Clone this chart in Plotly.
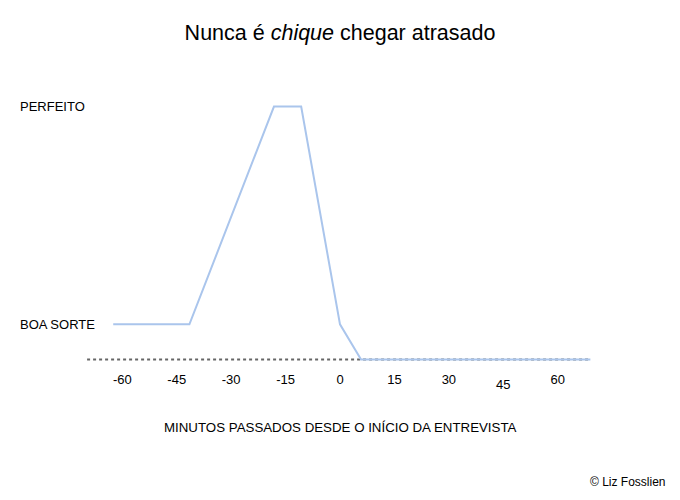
import plotly.graph_objects as go

# Data
minutes = [-62.5, -41.5, -18.2, -10.7, 0, 5.8, 69]
quality = [1, 1, 7.2, 7.2, 1, 0, 0]
baseline_x = [-69.7, 69]
baseline_y = [0, 0]
x_tick_vals = [-60, -45, -30, -15, 0, 15, 30, 45, 60]
x_tick_text = ["-60", "-45", "-30", "-15", "0", "15", "30", "", "60"]
shifted_tick_val = 45
shifted_tick_text = "45"
y_label_vals = [7.2, 1]
y_label_text = ["PERFEITO", "BOA SORTE"]

FONT = "Liberation Sans, Arial, Helvetica, sans-serif"
L, R, T, B = 86, 86, 96, 130
PW = 680 - L - R
PH = 500 - T - B

fig = go.Figure()
fig.add_trace(go.Scatter(
    x=baseline_x, y=baseline_y, mode="lines",
    line=dict(color="#666666", width=2, dash="dot"),
    hoverinfo="skip", showlegend=False,
))
fig.add_trace(go.Scatter(
    x=minutes, y=quality, mode="lines",
    line=dict(color="#aac5ec", width=2),
    showlegend=False,
))

annotations = []
for v, t in zip(y_label_vals, y_label_text):
    annotations.append(dict(
        x=(18 - L) / PW, xref="paper", xanchor="left", y=v, yref="y", yanchor="middle",
        text=t, showarrow=False, font=dict(family=FONT, size=13, color="#000000"),
    ))
annotations.append(dict(
    x=shifted_tick_val, xref="x", y=-0.3, yref="y", yanchor="top", yshift=-5,
    text=shifted_tick_text, showarrow=False, font=dict(family=FONT, size=13, color="#000000"),
))
annotations.append(dict(
    x=0.5, xref="paper", y=(500 - B - 427) / PH,
    yref="paper", yanchor="middle",
    text="MINUTOS PASSADOS DESDE O INÍCIO DA ENTREVISTA",
    showarrow=False, font=dict(family=FONT, size=13.3, color="#000000"),
))
annotations.append(dict(
    x=(668 - L) / PW, xref="paper", xanchor="right", y=(500 - B - 482) / PH, yref="paper",
    yanchor="middle",
    text="© Liz Fosslien", showarrow=False, font=dict(family=FONT, size=12, color="#000000"),
))

fig.update_layout(
    width=680, height=500,
    margin=dict(l=L, r=R, t=T, b=B),
    paper_bgcolor="white", plot_bgcolor="white",
    title=dict(
        text="Nunca é <i>chique</i> chegar atrasado",
        x=0.5, xanchor="center", y=1 - 32 / 500, yanchor="middle",
        font=dict(family=FONT, size=21.5, color="#000000"),
    ),
    xaxis=dict(
        range=[-70, 70], tickvals=x_tick_vals, ticktext=x_tick_text,
        showgrid=False, zeroline=False, showline=False, ticks="",
        tickfont=dict(family=FONT, size=13, color="#000000"),
        fixedrange=True,
    ),
    yaxis=dict(
        range=[-0.3, 7.5], showticklabels=False, showgrid=False,
        zeroline=False, showline=False, ticks="", fixedrange=True,
    ),
    annotations=annotations,
)

fig.write_html("out.html", config={"displayModeBar": False},
               post_script="document.body.style.margin='0';")
